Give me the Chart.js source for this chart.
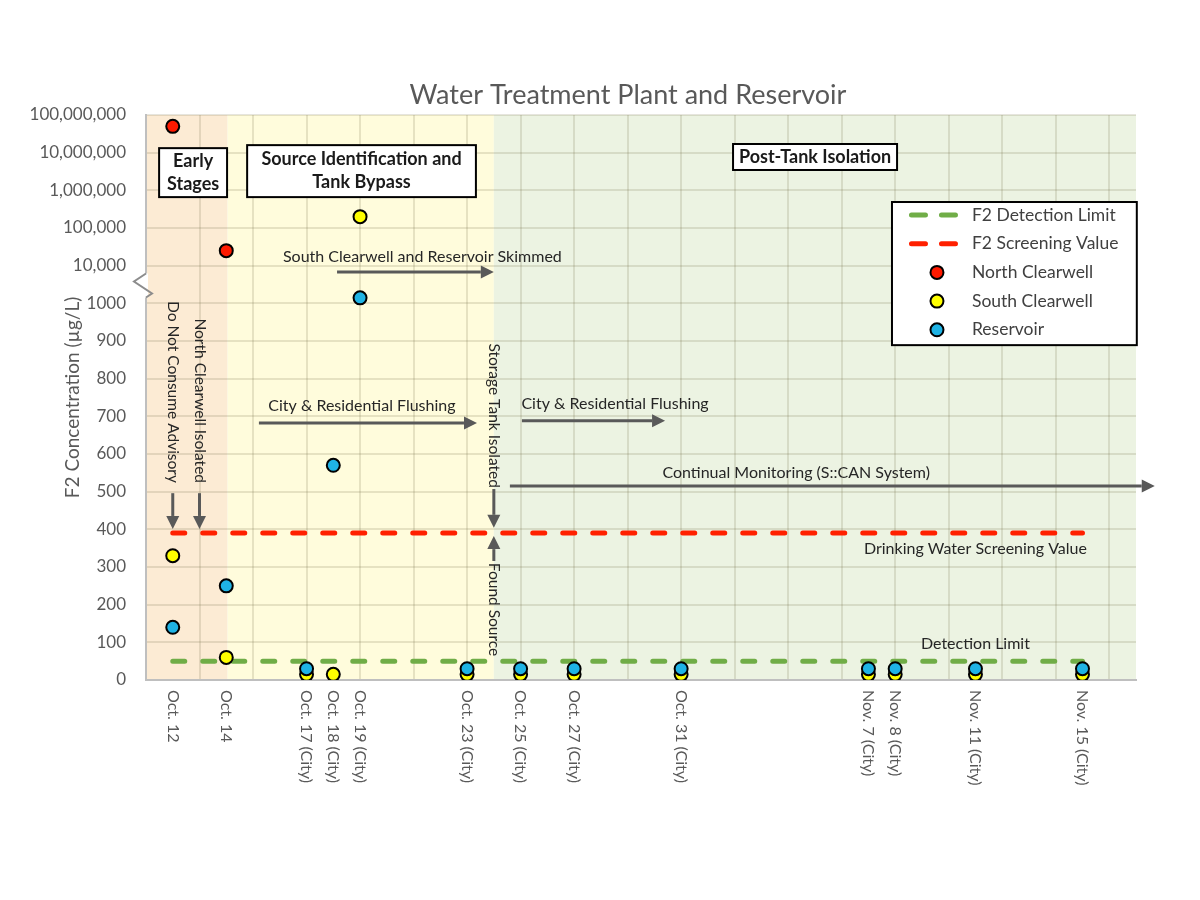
<!DOCTYPE html>
<html>
<head>
<meta charset="utf-8">
<title>Water Treatment Plant and Reservoir</title>
<script src="https://cdn.jsdelivr.net/npm/chart.js@4.4.1/dist/chart.umd.min.js"></script>
<style>
    html, body { margin: 0; padding: 0; background: #ffffff; }
    #wrap { width: 1200px; height: 900px; }
</style>
</head>
<body>
<div id="wrap"><canvas id="myChart"></canvas></div>
<script>
// sample days counted from Oct. 11 (Oct. 12 = 1, Nov. 15 = 35)
const sampleDays = [1, 3, 6, 7, 8, 12, 14, 16, 20, 27, 28, 31, 35];
const dateLabels = ["Oct. 12", "Oct. 14", "Oct. 17 (City)", "Oct. 18 (City)", "Oct. 19 (City)",
    "Oct. 23 (City)", "Oct. 25 (City)", "Oct. 27 (City)", "Oct. 31 (City)", "Nov. 7 (City)",
    "Nov. 8 (City)", "Nov. 11 (City)", "Nov. 15 (City)"];

// F2 concentration (ug/L)
const northClearwell = [50000000, 25000, null, null, null, null, null, null, null, null, null, null, null];
const southClearwell = [330, 60, 15, 15, 200000, 15, 15, 15, 15, 15, 15, 15, 15];
const reservoir = [140, 250, 30, 570, 1400, 30, 30, 30, 30, 30, 30, 30, 30];

const detectionLimit = 50;
const screeningValue = 390;
const limitDays = [1, 35];

const yTickValues = [0, 100, 200, 300, 400, 500, 600, 700, 800, 900, 1000,
    10000, 100000, 1000000, 10000000, 100000000];
const yTickLabels = ["0", "100", "200", "300", "400", "500", "600", "700", "800", "900", "1000",
    "10,000", "100,000", "1,000,000", "10,000,000", "100,000,000"];

const FONT = "Lato, 'Open Sans', sans-serif";
Chart.defaults.font.family = FONT;

// linear up to 1000, then 100 axis units per decade
function toAxis(v) {
    if (v === null) return null;
    return v <= 1000 ? v : 1000 + 100 * Math.log10(v / 1000);
}

function points(values) {
    return sampleDays.map((d, i) => ({ x: d, y: toAxis(values[i]) }));
}

function flatLine(v) {
    return limitDays.map(d => ({ x: d, y: toAxis(v) }));
}

// phase shading (days)
const phases = [
    { from: 0, to: 3.05, color: "#fcebd4" },
    { from: 3.05, to: 13, color: "#fffcdc" },
    { from: 13, to: 37, color: "#ecf3e2" }
];

const boxes = [
    { lines: ["Early", "Stages"], x1: 0.49, x2: 3.03, y1: 1412, y2: 1282 },
    { lines: ["Source Identification and", "Tank Bypass"], x1: 3.78, x2: 12.33, y1: 1420, y2: 1282 },
    { lines: ["Post-Tank Isolation"], x1: 21.94, x2: 28.07, y1: 1423, y2: 1354 }
];

const spans = [
    { text: "South Clearwell and Reservoir Skimmed", tx: 10.33, ty: 1123, x1: 7.14, x2: 13.0, y: 1083 },
    { text: "City & Residential Flushing", tx: 8.07, ty: 727, x1: 4.22, x2: 12.37, y: 682 },
    { text: "City & Residential Flushing", tx: 17.53, ty: 733, x1: 14.05, x2: 19.4, y: 688 },
    { text: "Continual Monitoring (S::CAN System)", tx: 24.3, ty: 550, x1: 13.6, x2: 37.7, y: 515 }
];

const markers = [
    { text: "Do Not Consume Advisory", day: 1, ty: 523, align: "right", from: 496, to: 401 },
    { text: "North Clearwell Isolated", day: 2, ty: 523, align: "right", from: 496, to: 401 },
    { text: "Storage Tank Isolated", day: 13, ty: 510, align: "right", from: 507, to: 404 },
    { text: "Found Source", day: 13, ty: 311, align: "left", from: 316, to: 382 }
];

const notes = [
    { text: "Drinking Water Screening Value", tx: 31.0, ty: 348 },
    { text: "Detection Limit", tx: 31.0, ty: 96 }
];

function arrow(ctx, x1, y1, x2, y2) {
    const a = Math.atan2(y2 - y1, x2 - x1);
    const head = 13, half = 6.5;
    const bx = x2 - head * Math.cos(a), by = y2 - head * Math.sin(a);
    ctx.beginPath();
    ctx.moveTo(x1, y1);
    ctx.lineTo(bx, by);
    ctx.stroke();
    ctx.beginPath();
    ctx.moveTo(x2, y2);
    ctx.lineTo(bx + half * Math.sin(a), by - half * Math.cos(a));
    ctx.lineTo(bx - half * Math.sin(a), by + half * Math.cos(a));
    ctx.closePath();
    ctx.fill();
}

function downText(ctx, text, px, py, align) {
    ctx.save();
    ctx.translate(px, py);
    ctx.rotate(Math.PI / 2);
    ctx.textAlign = align;
    ctx.textBaseline = "middle";
    ctx.fillText(text, 0, 0);
    ctx.restore();
}

const decorations = {
    id: "decorations",
    beforeDraw(chart) {
        const { ctx, chartArea: area, scales: { x } } = chart;
        ctx.save();
        phases.forEach(p => {
            const x1 = x.getPixelForValue(p.from);
            const x2 = x.getPixelForValue(p.to);
            ctx.fillStyle = p.color;
            ctx.fillRect(x1, area.top, x2 - x1, area.bottom - area.top);
        });
        ctx.restore();
    },
    afterDraw(chart) {
        const { ctx, chartArea: area, scales: { x, y } } = chart;
        ctx.save();

        // title
        ctx.fillStyle = "#595959";
        ctx.font = "27px " + FONT;
        ctx.textAlign = "center";
        ctx.textBaseline = "middle";
        ctx.fillText("Water Treatment Plant and Reservoir", 628, 95);

        // date labels, reading downwards
        ctx.font = "16px " + FONT;
        ctx.fillStyle = "#595959";
        sampleDays.forEach((d, i) => downText(ctx, dateLabels[i], x.getPixelForValue(d), area.bottom + 10, "left"));

        // axis break
        const by = y.getPixelForValue(1050);
        ctx.strokeStyle = "#ffffff";
        ctx.lineWidth = 4;
        ctx.beginPath();
        ctx.moveTo(area.left, by - 11);
        ctx.lineTo(area.left, by + 13);
        ctx.stroke();
        ctx.strokeStyle = "#8c8c8c";
        ctx.lineWidth = 2;
        ctx.beginPath();
        ctx.moveTo(area.left, by - 11);
        ctx.lineTo(area.left - 12, by - 3);
        ctx.lineTo(area.left + 6, by + 9);
        ctx.lineTo(area.left, by + 13);
        ctx.stroke();

        // phase boxes
        boxes.forEach(b => {
            const x1 = x.getPixelForValue(b.x1), x2 = x.getPixelForValue(b.x2);
            const y1 = y.getPixelForValue(b.y1), y2 = y.getPixelForValue(b.y2);
            ctx.fillStyle = "#ffffff";
            ctx.fillRect(x1, y1, x2 - x1, y2 - y1);
            ctx.strokeStyle = "#000000";
            ctx.lineWidth = 2;
            ctx.strokeRect(x1, y1, x2 - x1, y2 - y1);
            ctx.fillStyle = "#1a1a1a";
            ctx.font = "bold 18px " + FONT;
            ctx.textAlign = "center";
            ctx.textBaseline = "middle";
            const cy = (y1 + y2) / 2;
            b.lines.forEach((t, i) => {
                ctx.fillText(t, (x1 + x2) / 2, cy + (i - (b.lines.length - 1) / 2) * 23);
            });
        });

        // arrows and notes
        ctx.strokeStyle = "#595959";
        ctx.fillStyle = "#595959";
        ctx.lineWidth = 3;
        spans.forEach(s => {
            arrow(ctx, x.getPixelForValue(s.x1), y.getPixelForValue(s.y), x.getPixelForValue(s.x2), y.getPixelForValue(s.y));
        });
        markers.forEach(m => {
            const px = x.getPixelForValue(m.day);
            arrow(ctx, px, y.getPixelForValue(m.from), px, y.getPixelForValue(m.to));
        });

        ctx.fillStyle = "#262626";
        ctx.font = "16px " + FONT;
        ctx.textAlign = "center";
        ctx.textBaseline = "middle";
        spans.forEach(s => ctx.fillText(s.text, x.getPixelForValue(s.tx), y.getPixelForValue(s.ty)));
        notes.forEach(n => ctx.fillText(n.text, x.getPixelForValue(n.tx), y.getPixelForValue(n.ty)));
        ctx.font = "15.5px " + FONT;
        markers.forEach(m => downText(ctx, m.text, x.getPixelForValue(m.day), y.getPixelForValue(m.ty), m.align));

        // legend
        const lx = x.getPixelForValue(27.88), rx = x.getPixelForValue(37.03);
        const ty = y.getPixelForValue(1269), bty = y.getPixelForValue(889);
        ctx.fillStyle = "#ffffff";
        ctx.fillRect(lx, ty, rx - lx, bty - ty);
        ctx.strokeStyle = "#000000";
        ctx.lineWidth = 2;
        ctx.strokeRect(lx, ty, rx - lx, bty - ty);
        chart.data.datasets.forEach((ds, i) => {
            const ry = ty + 13 + i * 28.7;
            if (ds.showLine) {
                ctx.save();
                ctx.strokeStyle = ds.borderColor;
                ctx.lineWidth = 5;
                ctx.lineCap = "round";
                ctx.setLineDash([14, 16]);
                ctx.beginPath();
                ctx.moveTo(lx + 19.5, ry);
                ctx.lineTo(lx + 63.5, ry);
                ctx.stroke();
                ctx.restore();
            } else {
                ctx.beginPath();
                ctx.arc(lx + 45, ry, 6.5, 0, Math.PI * 2);
                ctx.fillStyle = ds.backgroundColor;
                ctx.fill();
                ctx.strokeStyle = "#000000";
                ctx.lineWidth = 2;
                ctx.stroke();
            }
            ctx.fillStyle = "#404040";
            ctx.font = "17.5px " + FONT;
            ctx.textAlign = "left";
            ctx.textBaseline = "middle";
            ctx.fillText(ds.label, lx + 80, ry);
        });

        ctx.restore();
    }
};

const gridDays = [];
for (let d = 0; d <= 36; d += 2) gridDays.push(d);

const ctx = document.getElementById("myChart");

new Chart(ctx, {
    type: "scatter",
    data: {
        datasets: [
            {
                label: "F2 Detection Limit",
                data: flatLine(detectionLimit),
                showLine: true,
                borderColor: "#70ad47",
                borderWidth: 5,
                borderDash: [12, 18],
                borderCapStyle: "round",
                pointRadius: 0,
                order: 4
            },
            {
                label: "F2 Screening Value",
                data: flatLine(screeningValue),
                showLine: true,
                borderColor: "#ff2000",
                borderWidth: 5,
                borderDash: [12, 18],
                borderCapStyle: "round",
                pointRadius: 0,
                order: 3
            },
            {
                label: "North Clearwell",
                data: points(northClearwell),
                backgroundColor: "#ff1a00",
                borderColor: "#000000",
                borderWidth: 2,
                pointRadius: 6.5,
                order: 2
            },
            {
                label: "South Clearwell",
                data: points(southClearwell),
                backgroundColor: "#ffff00",
                borderColor: "#000000",
                borderWidth: 2,
                pointRadius: 6.5,
                order: 1
            },
            {
                label: "Reservoir",
                data: points(reservoir),
                backgroundColor: "#1fb3e5",
                borderColor: "#000000",
                borderWidth: 2,
                pointRadius: 6.5,
                order: 0
            }
        ]
    },
    options: {
        responsive: true,
        maintainAspectRatio: false,
        animation: false,
        layout: {
            padding: { left: 20, right: 64, top: 115, bottom: 220 }
        },
        plugins: {
            legend: { display: false },
            tooltip: { enabled: false }
        },
        scales: {
            x: {
                type: "linear",
                min: 0,
                max: 37,
                afterBuildTicks: axis => { axis.ticks = gridDays.map(v => ({ value: v })); },
                afterFit: axis => { axis.height = 0; },
                ticks: { display: false },
                grid: { color: "rgba(120,115,80,0.19)", lineWidth: 2, drawTicks: false },
                border: { color: "#bfbfbf", width: 2 }
            },
            y: {
                type: "linear",
                min: 0,
                max: 1500,
                afterBuildTicks: axis => { axis.ticks = yTickValues.map(v => ({ value: toAxis(v) })); },
                afterFit: axis => { axis.width = 126; },
                ticks: {
                    callback: (v, i) => yTickLabels[i],
                    color: "#595959",
                    font: { size: 17 },
                    padding: 20,
                    autoSkip: false
                },
                grid: { color: "rgba(120,115,80,0.19)", lineWidth: 2, drawTicks: false },
                border: { color: "#bfbfbf", width: 2 },
                title: {
                    display: true,
                    text: "F2 Concentration (µg/L)",
                    color: "#595959",
                    font: { size: 19 },
                    padding: { top: 41, bottom: 0 }
                }
            }
        }
    },
    plugins: [decorations]
});
</script>
</body>
</html>
